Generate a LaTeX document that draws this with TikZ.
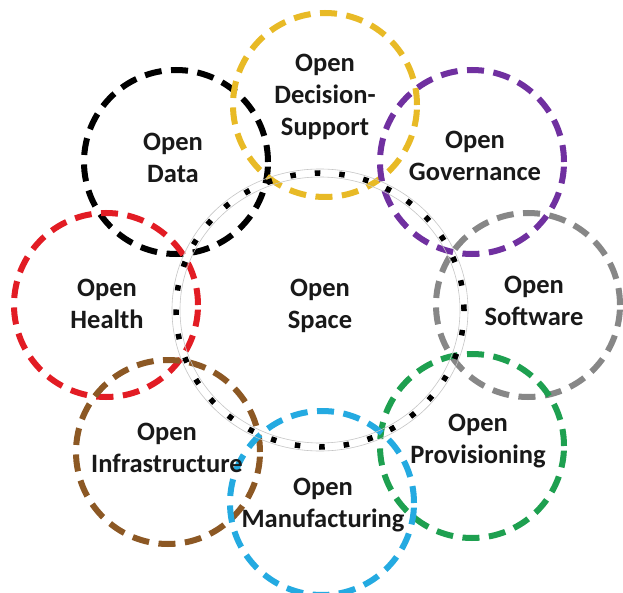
\documentclass[tikz,border=0pt]{standalone}
\usepackage{fontspec}
\setmainfont{Carlito}
\definecolor{cyel}{RGB}{232,186,38}
\definecolor{cpur}{RGB}{112,48,160}
\definecolor{cgry}{RGB}{135,135,135}
\definecolor{cgrn}{RGB}{30,160,80}
\definecolor{cblu}{RGB}{36,170,225}
\definecolor{cbrn}{RGB}{140,88,36}
\definecolor{cred}{RGB}{226,28,36}
\tikzset{
  bubble/.style={circle, draw=#1, line width=6pt, dash pattern=on 17pt off 9.5pt,
    minimum size=184pt, inner sep=0pt},
  lbl/.style={align=center, font=\bfseries\fontsize{26.5}{32}\selectfont, text=black!90},
  thinring/.style={draw=gray!45, line width=0.6pt},
  dotring/.style={draw=black, line width=5.5pt, dash pattern=on 5.5pt off 19pt}
}
\begin{document}
\begin{tikzpicture}[x=1pt,y=-1pt]
\useasboundingbox (0,0) rectangle (623,593);
\fill[white] (0,0) rectangle (623,593);
% outer bubbles
\node[bubble=black] (cData) at (176,162) {};
\node[bubble=cred] (cHealth) at (106,305) {};
\node[bubble=cbrn] (cInfra) at (168,452) {};
\node[bubble=cyel] (cDec) at (325,105) {};
\node[bubble=cpur] (cGov) at (472,162) {};
\node[bubble=cgry] (cSoft) at (528,305) {};
\node[bubble=cgrn] (cProv) at (472,446) {};
\node[bubble=cblu] (cManu) at (322,503) {};
% central ring
\coordinate (ctr) at (320,310);
\draw[thinring] (ctr) ellipse [x radius=148pt, y radius=141pt];
\draw[thinring] (ctr) ellipse [x radius=140pt, y radius=133pt];
\draw[dotring] (ctr) ellipse [x radius=144pt, y radius=137pt];
% labels
\node[lbl] (tSpace) at (320,306) {Open\\Space};
\node[lbl] (tData) at (173,158) {Open\\Data};
\node[lbl] (tHealth) at (107,304) {Open\\Health};
\node[lbl] (tInfra) at (167,448) {Open\\Infrastructure};
\node[lbl] (tDec) at (325,97) {Open\\Decision-\\Support};
\node[lbl] (tGov) at (475,156) {Open\\Governance};
\node[lbl] (tSoft) at (534,301) {Open\\Software};
\node[lbl] (tProv) at (478,441) {Open\\Provisioning};
\node[lbl] (tManu) at (323,505) {Open\\Manufacturing};
\end{tikzpicture}
\end{document}
